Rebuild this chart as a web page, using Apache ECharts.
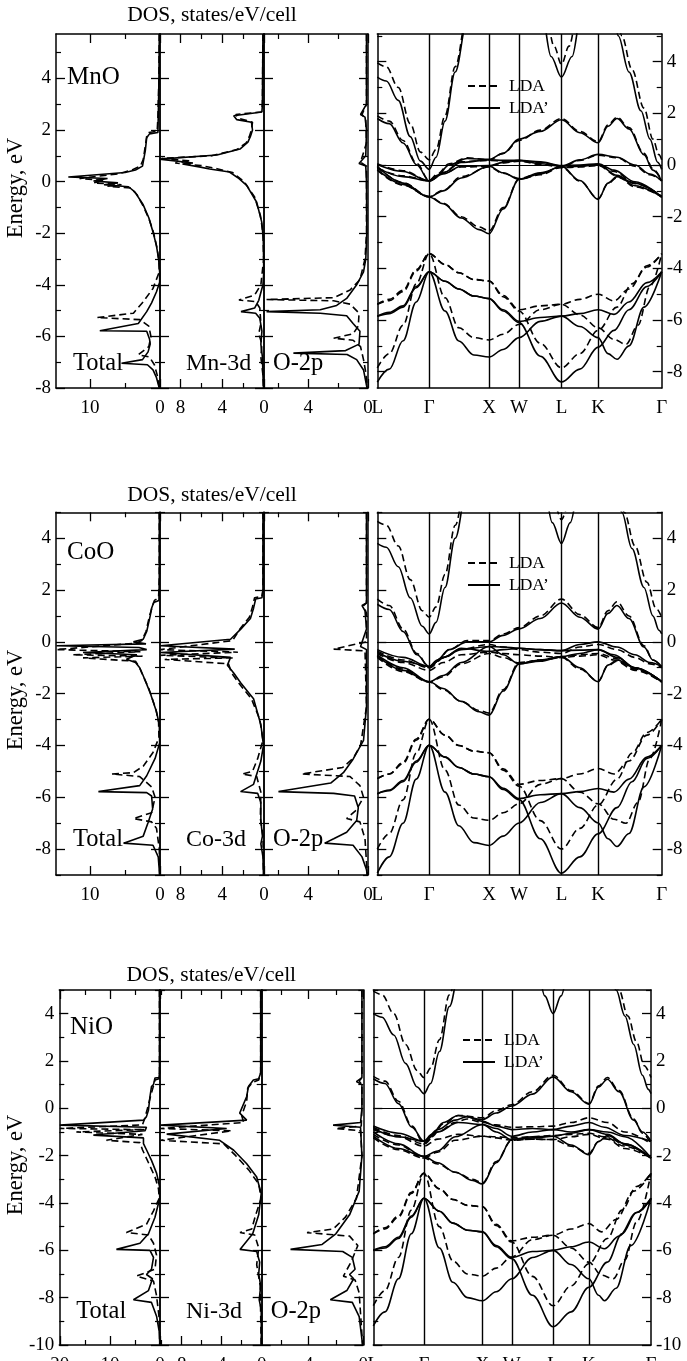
<!DOCTYPE html>
<html>
<head>
<meta charset="utf-8">
<script src="https://cdn.jsdelivr.net/npm/echarts@6/dist/echarts.min.js"></script>
<style>
html, body { margin: 0; padding: 0; background: #fff; }
#chart { width: 687px; height: 1361px; }
</style>
</head>
<body>
<div id="chart"></div>
<script>
// k-path of the band panels (units of 2pi/a) and its labels
var kPath = [0, 0.866, 1.866, 2.366, 3.073, 3.685, 4.746];
var kNames = ['L', 'Γ', 'X', 'W', 'L', 'K', 'Γ'];

// tick values of the DOS axes
var totTicks = [0, 10], totMinor = [5];
var totTicksNi = [0, 10, 20], totMinorNi = [5, 15];
var tmTicks = [0, 4, 8], tmMinor = [2, 6], tmMinorNi = [2, 6, 10];
var oTicks = [0, 4], oMinor = [2, 6];

// ---------------- MnO ----------------
// DOS, [states/eV/cell, energy eV]
var mnoTotLDAp = [[0.1,5.72],[0.15,4],[0.25,2.5],[0.3,1.9],[1.5,1.85],[1.9,1.7],[2.1,1.2],[2.3,0.9],[2.5,0.6],[3.5,0.45],[5.0,0.35],[13.1,0.18],[7.5,0.12],[9.5,0.02],[6.0,-0.05],[8.0,-0.12],[4.5,-0.2],[3.6,-0.4],[2.4,-0.9],[1.6,-1.4],[1.0,-1.95],[0.5,-2.5],[0.2,-3.0],[0.05,-3.5],[0.05,-3.9],[0.5,-4.27],[1.2,-4.7],[1.9,-5.04],[3.1,-5.5],[8.6,-5.78],[1.9,-5.8],[1.5,-6.1],[1.4,-6.3],[1.7,-6.6],[2.5,-6.9],[5.5,-7.04],[1.8,-7.1],[1.0,-7.3],[0.5,-7.6],[0.2,-7.9],[0.1,-8.0]];
var mnoTotLDA = [[0.1,5.72],[0.15,4],[0.3,2.5],[0.4,1.95],[1.6,1.9],[1.9,1.75],[2.2,1.2],[2.4,0.85],[2.8,0.6],[4,0.45],[6,0.3],[11.5,0.12],[8,0.05],[9.5,-0.05],[5.5,-0.12],[7.5,-0.18],[4.2,-0.25],[3.3,-0.5],[2.3,-1.0],[1.5,-1.5],[0.9,-2.0],[0.4,-2.6],[0.15,-3.1],[0.1,-3.5],[1.0,-4.14],[2.4,-4.66],[3.8,-5.1],[9.0,-5.27],[2.9,-5.35],[1.6,-5.6],[1.3,-6.0],[1.6,-6.4],[3.1,-6.71],[1.5,-6.8],[0.8,-7.1],[0.4,-7.5],[0.1,-8.0]];
var mno3dLDAp = [[0.1,5.72],[0.15,3],[0.2,2.7],[2.9,2.55],[2.6,2.4],[1.2,2.3],[1.1,2.0],[1.3,1.75],[1.54,1.53],[2.3,1.26],[4.5,1.03],[10,0.87],[6.8,0.72],[7.8,0.68],[6.2,0.57],[5.2,0.49],[3.3,0.37],[2.5,0.15],[1.66,-0.15],[0.7,-0.8],[0.22,-1.56],[0.07,-2.2],[0.02,-3.5],[0.1,-4.0],[0.5,-4.6],[0.9,-4.9],[2.2,-5.04],[0.8,-5.1],[0.4,-5.3],[0.2,-5.8],[0.3,-6.3],[0.15,-6.8],[0.1,-7.5],[0.05,-8.0]];
var mno3dLDA = [[0.1,5.72],[0.15,3],[0.25,2.7],[2.7,2.6],[2.4,2.45],[1.1,2.3],[1.2,2.0],[1.4,1.75],[1.7,1.5],[2.6,1.24],[5,1.0],[9.8,0.9],[7,0.8],[8.5,0.72],[6,0.62],[4.5,0.5],[3.0,0.35],[1.9,0.0],[0.9,-0.6],[0.35,-1.3],[0.1,-2.0],[0.03,-3.0],[0.3,-4.0],[0.9,-4.4],[2.4,-4.59],[0.8,-4.65],[0.4,-4.9],[0.3,-5.5],[0.5,-5.9],[0.2,-6.3],[0.3,-6.8],[0.1,-7.5],[0.05,-8.0]];
var mnoO2pLDAp = [[0.1,5.72],[0.1,3],[0.5,2.6],[0.2,2.5],[0.1,2.0],[0.15,1.0],[0.6,0.7],[0.15,0.6],[0.1,0],[0.08,-2],[0.15,-3.0],[0.3,-3.5],[0.76,-4.0],[1.43,-4.53],[2.1,-4.8],[3.2,-4.97],[6.8,-5.04],[3.2,-5.1],[1.43,-5.2],[1.0,-5.5],[0.54,-5.8],[0.6,-6.3],[1.5,-6.55],[5.0,-6.65],[1.4,-6.7],[0.76,-6.9],[0.3,-7.3],[0.1,-7.9],[0.05,-8.0]];
var mnoO2pLDA = [[0.1,5.72],[0.1,3],[0.4,2.6],[0.15,2.4],[0.1,1.5],[0.5,0.75],[0.1,0.6],[0.1,-2],[0.2,-3.0],[0.54,-3.8],[1.2,-4.2],[2.3,-4.5],[6.8,-4.57],[2.3,-4.62],[1.2,-4.75],[0.6,-5.1],[0.65,-5.6],[1.0,-5.9],[2.3,-6.07],[1.0,-6.15],[0.5,-6.4],[0.3,-6.9],[0.15,-7.4],[0.05,-8.0]];
// bands, [k, energy eV]
var mnoBandsLDAp = [
  [[0,3.4],[0.15,3.25],[0.35,2.5],[0.55,1.1],[0.72,0.15],[0.866,-0.17],[0.98,0.3],[1.13,1.7],[1.3,3.6],[1.5,5.6],[1.8,8],[2.4,8],[2.75,5.8],[2.9,4.2],[3.073,3.4],[3.25,4.2],[3.4,5.8],[3.7,8],[3.92,6.2],[4.02,5.0],[4.2,3.6],[4.4,2.1],[4.55,1.0],[4.68,0.1],[4.746,-0.17]],
  [[0,1.8],[0.2,1.6],[0.43,0.85],[0.66,0.0],[0.866,-0.62],[1.0,-0.4],[1.2,0.0],[1.5,0.25],[1.866,0.22],[2.1,0.45],[2.366,1.0],[2.72,1.3],[3.073,1.75],[3.38,1.25],[3.685,0.86],[3.85,1.5],[4.0,1.8],[4.2,1.4],[4.45,0.4],[4.6,-0.2],[4.746,-0.62]],
  [[0,0.02],[0.43,-0.25],[0.866,-0.62],[1.1,-0.35],[1.4,-0.05],[1.866,-0.02],[2.1,0.1],[2.366,0.18],[2.72,0.12],[3.073,-0.02],[3.38,0.0],[3.685,0.05],[3.95,-0.2],[4.3,-0.65],[4.746,-1.24]],
  [[0,-0.05],[0.43,-0.7],[0.866,-1.24],[1.1,-1.5],[1.4,-2.05],[1.7,-2.5],[1.866,-2.66],[2.1,-1.7],[2.366,-0.55],[2.72,-0.35],[3.073,-0.05],[3.38,-0.6],[3.685,-1.33],[3.85,-0.7],[4.0,-0.45],[4.3,-0.7],[4.746,-1.24]],
  [[0,-0.1],[0.43,-0.45],[0.866,-0.62],[1.1,-0.3],[1.4,0.1],[1.866,0.2],[2.1,0.18],[2.366,0.18],[2.72,0.05],[3.073,-0.05],[3.38,0.2],[3.685,0.41],[4.0,0.3],[4.3,0.0],[4.55,-0.35],[4.746,-0.62]],
  [[0,-0.17],[0.43,-0.75],[0.866,-1.24],[1.1,-1.0],[1.4,-0.5],[1.866,-0.05],[2.1,-0.3],[2.366,-0.55],[2.72,-0.3],[3.073,-0.08],[3.38,-0.05],[3.685,0.02],[4.0,-0.4],[4.3,-0.8],[4.746,-1.24]],
  [[0,-5.85],[0.2,-5.75],[0.43,-5.5],[0.65,-4.75],[0.866,-4.13],[1.13,-4.5],[1.36,-4.8],[1.61,-5.07],[1.866,-5.17],[2.1,-5.65],[2.366,-6.1],[2.72,-7.4],[3.073,-8.4],[3.38,-7.9],[3.685,-7.05],[3.95,-6.4],[4.2,-5.6],[4.5,-4.7],[4.746,-4.13]],
  [[0,-8.4],[0.2,-7.9],[0.43,-6.8],[0.65,-5.3],[0.866,-4.13],[1.13,-5.65],[1.36,-6.81],[1.61,-7.35],[1.866,-7.43],[2.1,-7.14],[2.366,-6.68],[2.72,-6.05],[3.073,-5.85],[3.38,-5.75],[3.685,-5.6],[3.95,-5.78],[4.2,-5.3],[4.5,-4.55],[4.746,-4.13]],
  [[0,-5.85],[0.2,-5.7],[0.43,-5.45],[0.65,-4.7],[0.866,-4.13],[1.13,-4.5],[1.36,-4.8],[1.61,-5.07],[1.866,-5.17],[2.1,-5.6],[2.366,-6.05],[2.72,-5.9],[3.073,-5.85],[3.38,-6.25],[3.685,-6.68],[3.85,-7.3],[4.0,-7.52],[4.2,-7.0],[4.45,-5.5],[4.746,-4.13]]
];
var mnoBandsLDA = [
  [[0,3.95],[0.15,3.8],[0.35,3.0],[0.55,1.6],[0.72,0.5],[0.866,0.2],[0.98,0.6],[1.13,1.9],[1.3,3.8],[1.5,5.8],[1.8,8],[2.4,8],[2.8,6.0],[2.95,4.6],[3.073,3.9],[3.2,4.6],[3.35,6.0],[3.7,8],[3.98,6.2],[4.08,5.0],[4.25,3.7],[4.45,2.2],[4.6,1.0],[4.7,0.4],[4.746,0.2]],
  [[0,1.9],[0.2,1.7],[0.43,0.95],[0.66,0.05],[0.866,-0.6],[1.0,-0.35],[1.2,0.05],[1.5,0.28],[1.866,0.2],[2.1,0.45],[2.366,0.95],[2.72,1.35],[3.073,1.8],[3.38,1.3],[3.685,0.9],[3.85,1.55],[4.0,1.85],[4.2,1.45],[4.45,0.45],[4.6,-0.15],[4.746,-0.6]],
  [[0,0.05],[0.43,-0.22],[0.866,-0.6],[1.1,-0.32],[1.4,-0.08],[1.866,-0.05],[2.1,0.08],[2.366,0.15],[2.72,0.1],[3.073,-0.05],[3.38,-0.03],[3.685,0.02],[3.95,-0.25],[4.3,-0.7],[4.746,-1.22]],
  [[0,-0.08],[0.43,-0.68],[0.866,-1.22],[1.1,-1.48],[1.4,-2.0],[1.7,-2.4],[1.866,-2.55],[2.1,-1.65],[2.366,-0.55],[2.72,-0.38],[3.073,-0.08],[3.38,-0.62],[3.685,-1.3],[3.85,-0.72],[4.0,-0.48],[4.3,-0.72],[4.746,-1.22]],
  [[0,-0.12],[0.43,-0.42],[0.866,-0.6],[1.1,-0.28],[1.4,0.12],[1.866,0.18],[2.1,0.15],[2.366,0.15],[2.72,0.02],[3.073,-0.08],[3.38,0.18],[3.685,0.38],[4.0,0.28],[4.3,-0.05],[4.55,-0.38],[4.746,-0.6]],
  [[0,-0.2],[0.43,-0.78],[0.866,-1.22],[1.1,-0.98],[1.4,-0.45],[1.866,-0.08],[2.1,-0.32],[2.366,-0.52],[2.72,-0.32],[3.073,-0.1],[3.38,-0.08],[3.685,-0.02],[4.0,-0.42],[4.3,-0.85],[4.746,-1.22]],
  [[0,-5.39],[0.2,-5.25],[0.43,-4.9],[0.65,-4.1],[0.866,-3.43],[1.13,-3.85],[1.36,-4.17],[1.61,-4.43],[1.866,-4.49],[2.1,-5.1],[2.366,-5.65],[2.72,-6.9],[3.073,-7.85],[3.38,-7.3],[3.685,-6.4],[4.0,-5.5],[4.25,-4.6],[4.5,-3.9],[4.746,-3.43]],
  [[0,-7.85],[0.2,-7.3],[0.43,-6.2],[0.65,-4.6],[0.866,-3.43],[1.13,-5.14],[1.36,-6.3],[1.61,-6.68],[1.866,-6.77],[2.1,-6.55],[2.366,-6.17],[2.72,-5.6],[3.073,-5.39],[3.38,-5.2],[3.685,-5.0],[3.95,-5.26],[4.2,-4.8],[4.5,-3.95],[4.746,-3.43]],
  [[0,-5.39],[0.2,-5.2],[0.43,-4.85],[0.65,-4.05],[0.866,-3.43],[1.13,-3.85],[1.36,-4.17],[1.61,-4.43],[1.866,-4.49],[2.1,-5.05],[2.366,-5.6],[2.72,-5.45],[3.073,-5.39],[3.38,-5.8],[3.685,-6.3],[3.95,-6.75],[4.15,-6.94],[4.35,-6.2],[4.55,-4.7],[4.746,-3.43]]
];

// ---------------- CoO ----------------
var cooTotLDAp = [[0.1,5],[0.1,2.5],[0.15,1.6],[0.9,1.52],[1.2,1.3],[1.4,1.0],[1.9,0.4],[2.4,0.1],[3.8,0.0],[2.0,-0.08],[14.8,-0.15],[3.0,-0.22],[1.9,-0.3],[11,-0.41],[3.3,-0.5],[4.8,-0.67],[3.5,-0.8],[2.9,-1.0],[2.4,-1.31],[1.43,-1.95],[0.5,-2.7],[0.1,-3.2],[0.05,-3.9],[0.7,-4.5],[1.9,-5.17],[2.9,-5.55],[8.8,-5.78],[1.9,-5.82],[1.2,-5.95],[1.05,-6.45],[1.7,-6.97],[2.4,-7.5],[5.2,-7.77],[1.0,-7.85],[0.25,-8.3],[0.05,-9]];
var cooTotLDA = [[0.1,5],[0.1,2.5],[0.2,1.7],[0.8,1.6],[1.1,1.35],[1.5,1.0],[2.0,0.4],[2.6,0.05],[3.4,-0.05],[14.8,-0.3],[2.8,-0.38],[12.5,-0.5],[2.5,-0.55],[11,-0.62],[3.5,-0.75],[3.0,-0.95],[2.6,-1.2],[1.6,-1.8],[0.6,-2.6],[0.2,-3.1],[0.15,-3.7],[1.0,-4.27],[2.4,-4.8],[3.8,-5.05],[6.9,-5.1],[2.9,-5.2],[1.2,-5.6],[0.7,-6.0],[1.2,-6.6],[3.8,-6.82],[1.2,-6.95],[0.5,-7.2],[0.1,-8.0],[0.05,-9]];
var coo3dLDAp = [[0.1,5],[0.1,2],[0.2,1.7],[0.8,1.65],[1.0,1.3],[1.3,0.9],[2.2,0.5],[3.2,0.1],[9.9,-0.15],[2.8,-0.28],[9.9,-0.41],[3.2,-0.6],[3.5,-0.9],[2.9,-1.2],[2.2,-1.6],[1.0,-2.2],[0.3,-3.2],[0.05,-4.0],[0.3,-4.6],[1.0,-5.5],[2.24,-5.78],[0.6,-5.85],[0.3,-6.2],[0.3,-6.9],[0.15,-7.5],[0.3,-7.8],[0.1,-8.3],[0.05,-9]];
var coo3dLDA = [[0.1,5],[0.1,2],[0.2,1.75],[0.9,1.7],[1.1,1.35],[1.4,0.95],[2.3,0.5],[3.0,0.05],[9.9,-0.3],[2.5,-0.4],[9.9,-0.52],[3.0,-0.62],[9.5,-0.68],[3.4,-0.85],[3.1,-1.2],[2.4,-1.6],[1.2,-2.2],[0.4,-3.0],[0.1,-3.8],[0.6,-4.5],[1.1,-5.0],[2.1,-5.1],[0.7,-5.2],[0.3,-5.8],[0.35,-6.8],[0.1,-7.5],[0.05,-9]];
var cooO2pLDAp = [[0.1,5],[0.1,1.5],[0.4,1.4],[0.2,1.2],[0.1,0.5],[0.5,-0.18],[0.1,-0.3],[0.1,-2.5],[0.3,-3.8],[1.0,-4.53],[1.65,-5.05],[2.5,-5.45],[6.0,-5.78],[2.3,-5.85],[0.9,-5.95],[0.65,-6.4],[0.76,-6.9],[1.43,-7.35],[2.3,-7.6],[2.9,-7.77],[1.0,-7.85],[0.4,-8.3],[0.1,-8.8],[0.05,-9]];
var cooO2pLDA = [[0.1,5],[0.1,1.5],[0.3,1.4],[0.1,1.1],[0.1,0],[2.3,-0.28],[0.2,-0.35],[0.1,-2.5],[0.5,-4.0],[1.0,-4.5],[1.7,-4.85],[4.45,-5.1],[1.2,-5.2],[0.54,-5.55],[0.3,-6.0],[0.8,-6.5],[1.43,-6.82],[0.54,-6.95],[0.2,-7.6],[0.05,-9]];
var cooBandsLDAp = [
  [[0,3.8],[0.15,3.65],[0.35,2.9],[0.55,1.7],[0.75,0.6],[0.866,0.31],[0.98,0.75],[1.13,2.1],[1.3,4.0],[1.5,6],[1.8,8],[2.4,8],[2.78,6],[2.92,4.6],[3.073,3.8],[3.22,4.6],[3.37,6],[3.7,8],[3.97,6],[4.08,5.0],[4.25,3.6],[4.45,2.1],[4.6,1.0],[4.7,0.45],[4.746,0.31]],
  [[0,1.45],[0.2,1.25],[0.43,0.4],[0.66,-0.5],[0.866,-0.95],[1.0,-0.7],[1.2,-0.3],[1.5,0.0],[1.866,0.0],[2.1,0.25],[2.366,0.5],[2.72,0.9],[3.073,1.5],[3.38,0.95],[3.685,0.49],[3.85,1.1],[4.0,1.4],[4.2,0.9],[4.45,-0.2],[4.6,-0.7],[4.746,-0.95]],
  [[0,-0.3],[0.43,-0.6],[0.866,-0.95],[1.1,-0.6],[1.4,-0.3],[1.866,-0.18],[2.1,-0.2],[2.366,-0.25],[2.72,-0.3],[3.073,-0.34],[3.38,-0.32],[3.685,-0.3],[3.95,-0.5],[4.3,-1.0],[4.746,-1.54]],
  [[0,-0.5],[0.43,-1.0],[0.866,-1.54],[1.1,-1.8],[1.4,-2.3],[1.7,-2.7],[1.866,-2.83],[2.1,-1.9],[2.366,-0.85],[2.72,-0.7],[3.073,-0.57],[3.38,-1.0],[3.685,-1.54],[3.85,-0.9],[4.0,-0.7],[4.3,-1.0],[4.746,-1.54]],
  [[0,-0.4],[0.43,-0.75],[0.866,-0.95],[1.1,-0.6],[1.4,-0.25],[1.866,-0.37],[2.1,-0.3],[2.366,-0.25],[2.72,-0.3],[3.073,-0.34],[3.38,-0.1],[3.685,0.0],[4.0,-0.2],[4.3,-0.5],[4.55,-0.8],[4.746,-0.95]],
  [[0,-0.55],[0.43,-1.1],[0.866,-1.54],[1.1,-1.3],[1.4,-0.8],[1.866,-0.18],[2.1,-0.5],[2.366,-0.85],[2.72,-0.75],[3.073,-0.57],[3.38,-0.45],[3.685,-0.3],[4.0,-0.6],[4.3,-1.0],[4.746,-1.54]],
  [[0,-5.86],[0.2,-5.75],[0.43,-5.4],[0.65,-4.65],[0.866,-3.99],[1.13,-4.45],[1.36,-4.85],[1.61,-5.1],[1.866,-5.21],[2.1,-5.7],[2.366,-6.09],[2.72,-7.6],[3.073,-8.93],[3.38,-8.3],[3.685,-7.41],[4.0,-6.4],[4.25,-5.4],[4.5,-4.5],[4.746,-3.99]],
  [[0,-8.93],[0.2,-8.3],[0.43,-7.0],[0.65,-5.3],[0.866,-3.99],[1.13,-5.8],[1.36,-7.1],[1.61,-7.75],[1.866,-7.86],[2.1,-7.5],[2.366,-6.99],[2.72,-6.2],[3.073,-5.86],[3.38,-5.78],[3.685,-5.66],[3.95,-5.8],[4.2,-5.3],[4.5,-4.45],[4.746,-3.99]],
  [[0,-5.86],[0.2,-5.72],[0.43,-5.35],[0.65,-4.6],[0.866,-3.99],[1.13,-4.45],[1.36,-4.85],[1.61,-5.1],[1.866,-5.21],[2.1,-5.65],[2.366,-6.05],[2.72,-5.9],[3.073,-5.86],[3.38,-6.4],[3.685,-6.99],[3.85,-7.6],[4.0,-7.9],[4.2,-7.4],[4.45,-5.6],[4.746,-3.99]]
];
var cooBandsLDA = [
  [[0,4.65],[0.15,4.5],[0.35,3.7],[0.55,2.4],[0.75,1.2],[0.866,0.95],[0.98,1.35],[1.13,2.6],[1.3,4.5],[1.5,6.5],[1.8,8],[2.4,8],[2.85,6],[2.97,5.2],[3.073,4.72],[3.18,5.2],[3.3,6],[3.7,8],[4.0,6.5],[4.12,5.0],[4.3,3.7],[4.5,2.3],[4.65,1.3],[4.746,0.95]],
  [[0,1.65],[0.2,1.4],[0.43,0.5],[0.66,-0.45],[0.866,-1.0],[1.0,-0.75],[1.2,-0.3],[1.5,0.05],[1.866,0.05],[2.1,0.3],[2.366,0.55],[2.72,1.0],[3.073,1.65],[3.38,1.05],[3.685,0.55],[3.85,1.2],[4.0,1.55],[4.2,1.0],[4.45,-0.15],[4.6,-0.7],[4.746,-1.0]],
  [[0,-0.45],[0.43,-0.8],[0.866,-1.1],[1.1,-0.8],[1.4,-0.5],[1.866,-0.4],[2.1,-0.45],[2.366,-0.5],[2.72,-0.55],[3.073,-0.6],[3.38,-0.55],[3.685,-0.5],[3.95,-0.7],[4.3,-1.1],[4.746,-1.55]],
  [[0,-0.55],[0.43,-1.05],[0.866,-1.55],[1.1,-1.85],[1.4,-2.3],[1.7,-2.65],[1.866,-2.75],[2.1,-1.85],[2.366,-0.8],[2.72,-0.72],[3.073,-0.6],[3.38,-1.05],[3.685,-1.52],[3.85,-0.92],[4.0,-0.75],[4.3,-1.05],[4.746,-1.55]],
  [[0,-0.35],[0.43,-0.7],[0.866,-1.0],[1.1,-0.62],[1.4,-0.28],[1.866,-0.1],[2.1,-0.2],[2.366,-0.3],[2.72,-0.4],[3.073,-0.45],[3.38,-0.2],[3.685,-0.1],[4.0,-0.3],[4.3,-0.6],[4.55,-0.85],[4.746,-1.0]],
  [[0,-0.6],[0.43,-1.15],[0.866,-1.55],[1.1,-1.35],[1.4,-0.85],[1.866,-0.45],[2.1,-0.6],[2.366,-0.82],[2.72,-0.7],[3.073,-0.6],[3.38,-0.5],[3.685,-0.45],[4.0,-0.65],[4.3,-1.05],[4.746,-1.55]],
  [[0,-5.28],[0.2,-5.1],[0.43,-4.7],[0.65,-3.8],[0.866,-2.99],[1.13,-3.6],[1.36,-4.0],[1.61,-4.22],[1.866,-4.28],[2.1,-4.95],[2.366,-5.57],[2.72,-6.9],[3.073,-8.0],[3.38,-7.2],[3.685,-6.3],[4.0,-5.3],[4.25,-4.3],[4.5,-3.5],[4.746,-2.99]],
  [[0,-8.0],[0.2,-7.4],[0.43,-6.1],[0.65,-4.3],[0.866,-2.99],[1.13,-4.95],[1.36,-6.3],[1.61,-6.8],[1.866,-6.89],[2.1,-6.6],[2.366,-6.25],[2.72,-5.5],[3.073,-5.28],[3.38,-5.1],[3.685,-4.89],[3.95,-5.1],[4.2,-4.6],[4.5,-3.6],[4.746,-2.99]],
  [[0,-5.28],[0.2,-5.1],[0.43,-4.65],[0.65,-3.75],[0.866,-2.99],[1.13,-3.6],[1.36,-4.0],[1.61,-4.22],[1.866,-4.28],[2.1,-4.9],[2.366,-5.5],[2.72,-5.35],[3.073,-5.28],[3.38,-5.8],[3.685,-6.25],[3.95,-6.85],[4.15,-7.0],[4.35,-6.2],[4.55,-4.5],[4.746,-2.99]]
];

// ---------------- NiO ----------------
var nioTotLDAp = [[0.1,5],[0.1,1.5],[0.2,1.3],[1.0,1.28],[1.3,1.0],[1.7,0.92],[2.0,0.5],[2.3,-0.07],[2.7,-0.35],[3.3,-0.5],[20,-0.71],[2.7,-0.8],[3.0,-0.95],[13.3,-1.13],[3.3,-1.25],[3.3,-1.49],[2.7,-1.75],[1.7,-2.2],[0.67,-2.75],[0.1,-3.3],[0.05,-3.8],[1.0,-4.6],[2.3,-5.3],[4.0,-5.7],[8.7,-5.96],[2.0,-6.0],[1.3,-6.3],[1.7,-6.8],[2.7,-7.02],[1.5,-7.2],[2.3,-7.7],[5.3,-8.09],[1.7,-8.2],[0.67,-8.8],[0.1,-9.5],[0.05,-10]];
var nioTotLDA = [[0.1,5],[0.1,1.5],[0.2,1.25],[1.0,1.2],[1.3,0.95],[1.9,0.5],[2.5,0.0],[3.0,-0.4],[3.5,-0.7],[20,-0.85],[3.0,-0.9],[16.7,-1.0],[3.5,-1.1],[10.7,-1.35],[4.0,-1.45],[3.5,-1.75],[2.3,-2.3],[1.0,-2.9],[0.3,-3.4],[0.15,-3.8],[1.3,-4.33],[2.7,-4.9],[6.7,-5.25],[2.3,-5.35],[1.3,-5.7],[0.7,-6.2],[1.0,-6.8],[4.7,-7.09],[1.3,-7.3],[0.7,-7.9],[0.2,-8.8],[0.05,-10]];
var nio3dLDAp = [[0.1,5],[0.1,1.5],[0.3,1.25],[0.83,1.2],[1.33,0.92],[1.5,0.5],[2.2,-0.2],[1.5,-0.5],[10.1,-0.71],[3.5,-0.85],[9.5,-1.09],[4.2,-1.35],[2.8,-1.77],[1.5,-2.34],[0.5,-2.9],[0.05,-3.6],[0.3,-4.5],[0.9,-5.3],[2.17,-5.96],[0.5,-6.05],[0.2,-6.5],[0.3,-7.0],[0.1,-7.5],[0.25,-8.09],[0.05,-8.5],[0.03,-10]];
var nio3dLDA = [[0.1,5],[0.1,1.5],[0.3,1.2],[0.9,1.1],[1.4,0.85],[1.5,0.3],[2.0,-0.3],[1.8,-0.6],[10.1,-0.85],[3.0,-0.95],[10.1,-1.35],[3.8,-1.5],[2.6,-2.0],[1.3,-2.6],[0.3,-3.2],[0.05,-3.8],[0.6,-4.5],[1.0,-5.1],[2.17,-5.25],[0.7,-5.35],[0.3,-5.9],[0.5,-6.6],[0.15,-7.5],[0.05,-10]];
var nioO2pLDAp = [[0.1,5],[0.1,1.3],[0.5,1.13],[0.1,1.0],[0.1,0],[0.2,-0.6],[2.2,-0.71],[0.2,-0.8],[0.1,-2],[0.3,-3.5],[1.0,-4.5],[2.0,-5.3],[3.0,-5.75],[5.3,-5.96],[1.5,-6.05],[0.8,-6.3],[0.6,-6.8],[1.0,-7.02],[0.7,-7.2],[1.2,-7.7],[2.4,-8.09],[0.8,-8.2],[0.3,-8.8],[0.05,-10]];
var nioO2pLDA = [[0.1,5],[0.1,1.3],[0.3,1.15],[0.1,1.0],[0.1,0],[0.15,-0.75],[2.0,-0.85],[0.2,-0.95],[0.1,-2],[0.5,-3.8],[1.3,-4.6],[2.2,-5.1],[4.1,-5.25],[1.0,-5.4],[0.4,-5.8],[0.9,-6.5],[1.45,-7.09],[0.6,-7.25],[0.3,-7.8],[0.05,-10]];
var nioBandsLDAp = [
  [[0,4.0],[0.15,3.85],[0.35,3.1],[0.55,1.9],[0.75,0.9],[0.866,0.62],[0.98,1.05],[1.13,2.4],[1.3,4.3],[1.5,6.2],[1.8,8],[2.4,8],[2.8,6],[2.93,4.75],[3.073,4.0],[3.21,4.75],[3.35,6],[3.7,8],[3.95,7],[4.15,5.0],[4.3,3.9],[4.45,2.7],[4.6,1.4],[4.7,0.8],[4.746,0.62]],
  [[0,1.25],[0.2,1.05],[0.43,0.2],[0.66,-0.8],[0.866,-1.39],[1.0,-1.1],[1.2,-0.6],[1.45,-0.3],[1.866,-0.47],[2.1,-0.2],[2.366,0.1],[2.72,0.6],[3.073,1.33],[3.38,0.7],[3.685,0.17],[3.85,0.9],[4.0,1.23],[4.2,0.7],[4.45,-0.5],[4.6,-1.0],[4.746,-1.39]],
  [[0,-0.75],[0.43,-1.05],[0.866,-1.39],[1.1,-1.0],[1.45,-0.6],[1.866,-0.68],[2.1,-0.85],[2.366,-1.18],[2.72,-1.0],[3.073,-0.9],[3.38,-0.75],[3.685,-0.6],[3.95,-0.8],[4.3,-1.15],[4.746,-1.39]],
  [[0,-1.0],[0.43,-1.5],[0.866,-2.03],[1.1,-2.3],[1.4,-2.7],[1.7,-3.05],[1.866,-3.2],[2.1,-2.3],[2.366,-1.32],[2.72,-1.2],[3.073,-1.18],[3.38,-1.55],[3.685,-1.96],[3.85,-1.4],[4.0,-1.15],[4.3,-1.5],[4.746,-2.1]],
  [[0,-0.85],[0.43,-1.2],[0.866,-1.39],[1.1,-0.9],[1.4,-0.5],[1.6,-0.35],[1.866,-0.55],[2.1,-0.75],[2.366,-0.9],[2.72,-0.85],[3.073,-0.9],[3.38,-1.0],[3.685,-0.9],[4.0,-1.0],[4.3,-1.2],[4.746,-2.1]],
  [[0,-1.18],[0.43,-1.7],[0.866,-2.03],[1.1,-1.8],[1.4,-1.2],[1.866,-0.68],[2.1,-1.0],[2.366,-1.32],[2.72,-1.25],[3.073,-1.18],[3.38,-1.05],[3.685,-0.9],[4.0,-1.1],[4.3,-1.5],[4.746,-2.1]],
  [[0,-6.0],[0.2,-5.9],[0.43,-5.5],[0.65,-4.6],[0.866,-3.8],[1.13,-4.35],[1.36,-4.85],[1.61,-5.15],[1.866,-5.22],[2.1,-5.85],[2.366,-6.35],[2.72,-7.9],[3.073,-9.23],[3.38,-8.6],[3.685,-7.56],[4.0,-6.5],[4.25,-5.3],[4.5,-4.4],[4.746,-3.8]],
  [[0,-9.19],[0.2,-8.6],[0.43,-7.2],[0.65,-5.3],[0.866,-3.8],[1.13,-5.9],[1.36,-7.35],[1.61,-8.0],[1.866,-8.13],[2.1,-7.75],[2.366,-7.2],[2.72,-6.3],[3.073,-6.0],[3.38,-5.85],[3.685,-5.65],[3.95,-5.93],[4.2,-5.4],[4.5,-4.4],[4.746,-3.8]],
  [[0,-6.0],[0.2,-5.85],[0.43,-5.45],[0.65,-4.55],[0.866,-3.8],[1.13,-4.35],[1.36,-4.85],[1.61,-5.15],[1.866,-5.22],[2.1,-5.8],[2.366,-6.3],[2.72,-6.05],[3.073,-6.0],[3.38,-6.6],[3.685,-7.2],[3.85,-7.9],[3.95,-8.13],[4.15,-7.6],[4.4,-5.8],[4.746,-3.8]]
];
var nioBandsLDA = [
  [[0,4.95],[0.15,4.8],[0.35,4.0],[0.55,2.7],[0.75,1.6],[0.866,1.3],[0.98,1.7],[1.13,2.9],[1.3,4.8],[1.5,6.7],[1.8,8],[2.4,8],[2.9,6],[3.073,5.0],[3.25,6],[3.7,8],[4.02,7],[4.2,5.0],[4.35,3.9],[4.5,2.8],[4.63,1.8],[4.746,1.3]],
  [[0,1.35],[0.2,1.15],[0.43,0.3],[0.66,-0.75],[0.866,-1.5],[1.0,-1.2],[1.2,-0.65],[1.45,-0.3],[1.866,-0.4],[2.1,-0.1],[2.366,0.15],[2.72,0.7],[3.073,1.4],[3.38,0.75],[3.685,0.2],[3.85,0.95],[4.0,1.3],[4.2,0.75],[4.45,-0.45],[4.6,-1.05],[4.746,-1.5]],
  [[0,-0.9],[0.43,-1.2],[0.866,-1.6],[1.1,-1.3],[1.45,-1.1],[1.866,-1.18],[2.1,-1.2],[2.366,-1.25],[2.72,-1.2],[3.073,-1.15],[3.38,-1.1],[3.685,-1.05],[3.95,-1.2],[4.3,-1.6],[4.746,-2.1]],
  [[0,-1.1],[0.43,-1.55],[0.866,-2.1],[1.1,-2.35],[1.4,-2.7],[1.7,-3.0],[1.866,-3.15],[2.1,-2.25],[2.366,-1.35],[2.72,-1.3],[3.073,-1.32],[3.38,-1.6],[3.685,-1.9],[3.85,-1.4],[4.0,-1.2],[4.3,-1.55],[4.746,-2.1]],
  [[0,-0.8],[0.43,-1.15],[0.866,-1.5],[1.1,-1.0],[1.4,-0.6],[1.6,-0.45],[1.866,-0.6],[2.1,-0.7],[2.366,-0.8],[2.72,-0.78],[3.073,-0.75],[3.38,-0.6],[3.685,-0.4],[4.0,-0.6],[4.3,-1.0],[4.746,-1.5]],
  [[0,-1.25],[0.43,-1.75],[0.866,-2.1],[1.1,-1.85],[1.4,-1.35],[1.866,-1.18],[2.1,-1.25],[2.366,-1.35],[2.72,-1.3],[3.073,-1.32],[3.38,-1.2],[3.685,-1.1],[4.0,-1.3],[4.3,-1.7],[4.746,-2.1]],
  [[0,-5.3],[0.2,-5.1],[0.43,-4.6],[0.65,-3.6],[0.866,-2.74],[1.13,-3.4],[1.36,-3.85],[1.61,-4.1],[1.866,-4.16],[2.1,-4.95],[2.366,-5.65],[2.72,-7.1],[3.073,-8.34],[3.38,-7.5],[3.685,-6.57],[4.0,-5.5],[4.25,-4.3],[4.5,-3.3],[4.746,-2.74]],
  [[0,-8.34],[0.2,-7.7],[0.43,-6.3],[0.65,-4.3],[0.866,-2.74],[1.13,-5.0],[1.36,-6.45],[1.61,-7.0],[1.866,-7.09],[2.1,-6.75],[2.366,-6.28],[2.72,-5.55],[3.073,-5.36],[3.38,-5.1],[3.685,-4.87],[3.9,-5.22],[4.15,-4.7],[4.45,-3.5],[4.746,-2.74]],
  [[0,-5.3],[0.2,-5.05],[0.43,-4.55],[0.65,-3.55],[0.866,-2.74],[1.13,-3.4],[1.36,-3.85],[1.61,-4.1],[1.866,-4.16],[2.1,-4.9],[2.366,-5.6],[2.72,-5.45],[3.073,-5.36],[3.38,-5.9],[3.685,-6.5],[3.9,-7.05],[4.1,-7.2],[4.3,-6.4],[4.5,-4.8],[4.746,-2.74]]
];

var FONT = '"Liberation Serif", "DejaVu Serif", serif';
var LDA = 'LDA', LDAP = 'LDA\u2019';

var rows = [
  { mat: 'MnO', tm: 'Mn-3d', top: 34, height: 354, edges: [56, 160, 264, 368], band: [377.3, 661.7],
    dosY: [-8.0, 5.72], bandY: [-8.63, 5.07], dosMax: [14.86, 9.95, 6.97],
    xMaj: [totTicks, tmTicks, oTicks], xMin: [totMinor, tmMinor, oMinor],
    dos: [[mnoTotLDAp, mnoTotLDA], [mno3dLDAp, mno3dLDA], [mnoO2pLDAp, mnoO2pLDA]],
    bandsS: mnoBandsLDAp, bandsD: mnoBandsLDA,
    title: 15, matPos: [67, 77], lblY: 364, energyY: 188, legend: [467, 77] },
  { mat: 'CoO', tm: 'Co-3d', top: 512.3, height: 362.7, edges: [56, 160, 264, 368], band: [377.3, 661.7],
    dosY: [-9, 5], bandY: [-9, 5], dosMax: [14.86, 9.95, 6.97],
    xMaj: [totTicks, tmTicks, oTicks], xMin: [totMinor, tmMinor, oMinor],
    dos: [[cooTotLDAp, cooTotLDA], [coo3dLDAp, coo3dLDA], [cooO2pLDAp, cooO2pLDA]],
    bandsS: cooBandsLDAp, bandsD: cooBandsLDA,
    title: 495, matPos: [67, 552], lblY: 840, energyY: 700, legend: [467, 554] },
  { mat: 'NiO', tm: 'Ni-3d', top: 990, height: 355, edges: [59.3, 160, 261.7, 363.3], band: [373.3, 651],
    dosY: [-10, 5], bandY: [-10, 5], dosMax: [20.1, 10.17, 7.4],
    xMaj: [totTicksNi, tmTicks, oTicks], xMin: [totMinorNi, tmMinorNi, oMinor],
    dos: [[nioTotLDAp, nioTotLDA], [nio3dLDAp, nio3dLDA], [nioO2pLDAp, nioO2pLDA]],
    bandsS: nioBandsLDAp, bandsD: nioBandsLDA,
    title: 975, matPos: [70, 1027], lblY: 1312, energyY: 1165, legend: [462, 1031] }
];

var grids = [], xAxes = [], yAxes = [], series = [], legends = [], texts = [];

function stepTicks(range, offset) {
  var out = [];
  for (var v = Math.ceil((range[0] - offset) / 2) * 2 + offset; v <= range[1] + 1e-9; v += 2) out.push(v);
  return out;
}

function addGrid(left, top, width, height) {
  grids.push({ left: left, top: top, width: width, height: height, containLabel: false, outerBoundsMode: 'none' });
  return grids.length - 1;
}

function addAxes(list, g, pos, range, inverse, majors, minors, showLabels, isX) {
  list.push({
    type: 'value', gridIndex: g, position: pos, min: range[0], max: range[1], inverse: inverse,
    axisLine: { show: true, onZero: false, lineStyle: { color: '#000', width: 1.5 } },
    axisTick: { show: majors.length > 0, inside: true, length: 9, customValues: majors, lineStyle: { color: '#000', width: 1.3 } },
    axisLabel: { show: showLabels, customValues: majors, color: '#000', fontFamily: FONT, fontSize: 19, margin: isX ? 11 : 5 },
    splitLine: { show: false }
  });
  var idx = list.length - 1;
  if (minors && minors.length) {
    list.push({
      type: 'value', gridIndex: g, position: pos, min: range[0], max: range[1], inverse: inverse,
      axisLine: { show: false, onZero: false },
      axisTick: { show: true, inside: true, length: 5, customValues: minors, lineStyle: { color: '#000', width: 1.2 } },
      axisLabel: { show: false }, splitLine: { show: false }
    });
  }
  return idx;
}

function lineSeries(name, data, xi, yi, dashed, smooth) {
  return {
    type: 'line', name: name, data: data, xAxisIndex: xi, yAxisIndex: yi,
    symbol: 'none', smooth: smooth ? 0.35 : false, smoothMonotone: smooth ? 'x' : undefined,
    clip: true, silent: true, animation: false,
    itemStyle: { color: '#000' },
    lineStyle: { color: '#000', width: 1.6, type: dashed ? [7, 4] : 'solid' }
  };
}

function addText(str, x, y, size, align, rot) {
  texts.push({
    type: 'text', x: x, y: y, rotation: rot || 0, silent: true,
    style: { text: str, font: size + 'px ' + FONT, fill: '#000', textAlign: align, textVerticalAlign: 'middle', verticalAlign: 'middle' }
  });
}

rows.forEach(function (r) {
  var yMajD = stepTicks(r.dosY, 0), yMinD = stepTicks(r.dosY, 1);
  var yMajB = stepTicks(r.bandY, 0), yMinB = stepTicks(r.bandY, 1);

  // three DOS panels
  for (var p = 0; p < 3; p++) {
    var g = addGrid(r.edges[p], r.top, r.edges[p + 1] - r.edges[p], r.height);
    var xr = [0, r.dosMax[p]];
    var xi = addAxes(xAxes, g, 'bottom', xr, true, r.xMaj[p], r.xMin[p], true, true);
    addAxes(xAxes, g, 'top', xr, true, r.xMaj[p], r.xMin[p], false, true);
    var yi = addAxes(yAxes, g, 'left', r.dosY, false, yMajD, yMinD, p === 0, false);
    addAxes(yAxes, g, 'right', r.dosY, false, yMajD, yMinD, false, false);
    series.push(lineSeries(LDA, r.dos[p][1], xi, yi, true, false));
    series.push(lineSeries(LDAP, r.dos[p][0], xi, yi, false, false));
  }

  // band structure panel
  var gb = addGrid(r.band[0], r.top, r.band[1] - r.band[0], r.height);
  xAxes.push({
    type: 'value', gridIndex: gb, position: 'bottom', min: 0, max: kPath[kPath.length - 1],
    axisLine: { show: true, onZero: false, lineStyle: { color: '#000', width: 1.5 } },
    axisTick: { show: false },
    axisLabel: {
      customValues: kPath, color: '#000', fontFamily: FONT, fontSize: 19, margin: 11,
      formatter: function (v) {
        for (var i = 0; i < kPath.length; i++) if (Math.abs(kPath[i] - v) < 1e-6) return kNames[i];
        return '';
      }
    },
    splitLine: { show: false }
  });
  var xb = xAxes.length - 1;
  xAxes.push({
    type: 'value', gridIndex: gb, position: 'top', min: 0, max: kPath[kPath.length - 1],
    axisLine: { show: true, onZero: false, lineStyle: { color: '#000', width: 1.5 } },
    axisTick: { show: false }, axisLabel: { show: false }, splitLine: { show: false }
  });
  var yb = addAxes(yAxes, gb, 'left', r.bandY, false, yMajB, yMinB, false, false);
  addAxes(yAxes, gb, 'right', r.bandY, false, yMajB, yMinB, true, false);

  r.bandsD.forEach(function (b, i) {
    var s = lineSeries(LDA, b, xb, yb, true, true);
    if (i === 0) {
      var marks = kPath.slice(1, -1).map(function (k) { return { xAxis: k, lineStyle: { width: 1.4 } }; });
      marks.push({ yAxis: 0, lineStyle: { width: 1.1 } });
      s.markLine = { symbol: ['none', 'none'], silent: true, animation: false, label: { show: false },
        lineStyle: { color: '#000', type: 'solid' }, data: marks };
    }
    series.push(s);
  });
  r.bandsS.forEach(function (b) { series.push(lineSeries(LDAP, b, xb, yb, false, true)); });

  legends.push({
    orient: 'vertical', left: r.legend[0], top: r.legend[1], padding: 0,
    itemWidth: 32, itemHeight: 12, itemGap: 4,
    data: [LDA, LDAP], selectedMode: false,
    itemStyle: { opacity: 0 },
    textStyle: { fontFamily: FONT, fontSize: 17.5, color: '#000', padding: [0, 0, 0, 4] }
  });

  // texts
  addText('DOS, states/eV/cell', (r.edges[0] + r.edges[3]) / 2, r.title, 21.5, 'center');
  addText('Energy, eV', 16, r.energyY, 22.5, 'center', Math.PI / 2);
  addText(r.mat, r.matPos[0], r.matPos[1], 25, 'left');
  addText('Total', r.edges[0] + 17, r.lblY, 24.5, 'left');
  addText(r.tm, r.edges[1] + 26, r.lblY, 24, 'left');
  addText('O-2p', r.edges[2] + 9, r.lblY, 24.5, 'left');
});

var chart = echarts.init(document.getElementById('chart'));
chart.setOption({
  animation: false,
  backgroundColor: '#fff',
  grid: grids,
  xAxis: xAxes,
  yAxis: yAxes,
  legend: legends,
  series: series,
  graphic: { elements: texts }
});
</script>
</body>
</html>
